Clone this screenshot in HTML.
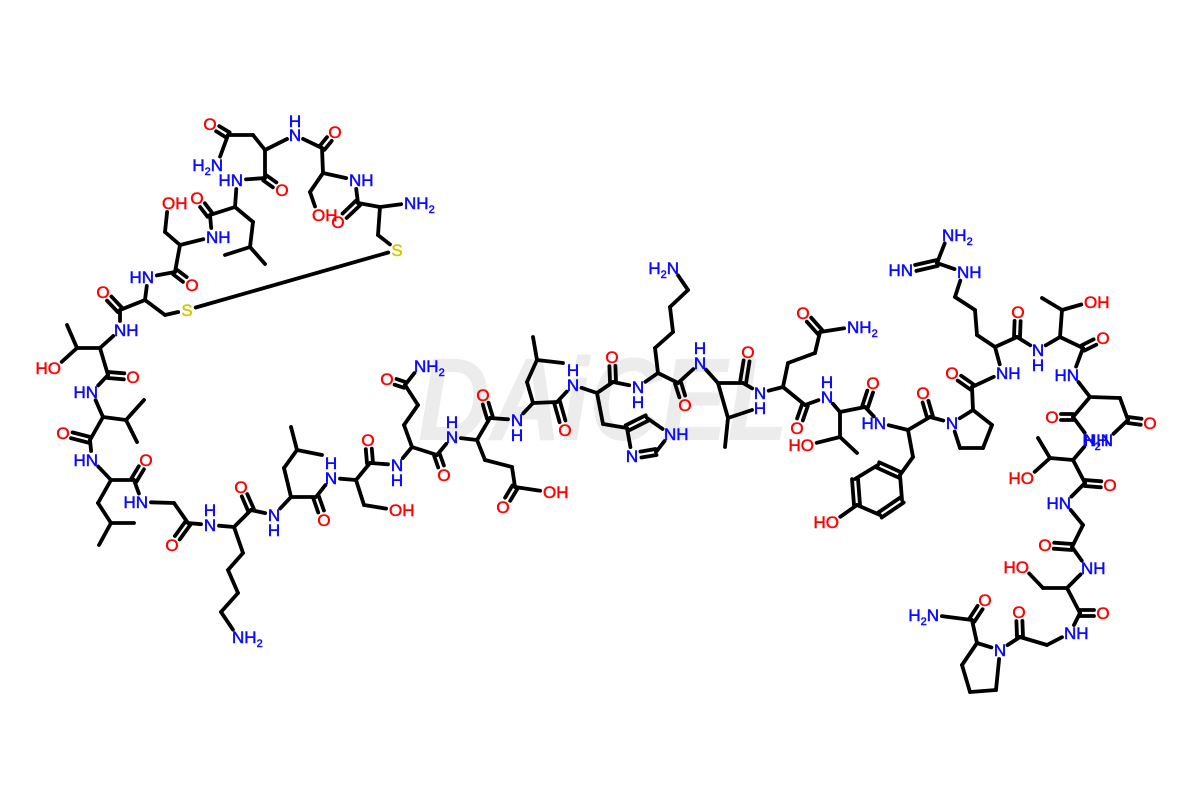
<!DOCTYPE html>
<html><head><meta charset="utf-8"><style>
html,body{margin:0;padding:0;background:#fff;}
svg{display:block}
#labels text{font-family:"Liberation Sans",Arial,sans-serif;font-size:17px;stroke-width:0.5px;}
.n{fill:#0a0aff;stroke:#0a0aff}.o{fill:#ff0000;stroke:#ff0000}.s{fill:#d4c600;stroke:#d4c600}
.wm{fill:#ececec;font-family:"Liberation Sans",Arial,sans-serif;font-size:118px;font-weight:bold;font-style:italic}
</style></head><body>
<svg id="sv" width="1200" height="800" viewBox="0 0 1200 800" xmlns="http://www.w3.org/2000/svg">
<text class="wm" x="418" y="440" textLength="370" lengthAdjust="spacingAndGlyphs">DAiCEL</text>
<g id="bonds" stroke="#000" stroke-width="3.8" stroke-linecap="round" fill="none"></g>
<g id="labels">
<text class="n" x="404" y="209">NH<tspan font-size="11" dy="4">2</tspan></text>
<text class="s" x="397" y="256" text-anchor="middle">S</text>
<text class="o" x="338" y="228" text-anchor="middle">O</text>
<text class="n" x="349" y="186">NH</text>
<text class="o" x="312" y="221">OH</text>
<text class="o" x="335" y="138" text-anchor="middle">O</text>
<text class="n" x="295" y="141" text-anchor="middle">N</text><text class="n" x="295" y="127" text-anchor="middle">H</text>
<text class="o" x="210" y="130" text-anchor="middle">O</text>
<text class="n" x="223" y="171" text-anchor="end">H<tspan font-size="11" dy="4">2</tspan><tspan dy="-4">N</tspan></text>
<text class="o" x="282" y="196" text-anchor="middle">O</text>
<text class="n" x="243" y="186" text-anchor="end">HN</text>
<text class="o" x="197" y="204" text-anchor="middle">O</text>
<text class="n" x="206" y="243">NH</text>
<text class="o" x="162" y="209">OH</text>
<text class="o" x="192" y="291" text-anchor="middle">O</text>
<text class="n" x="154" y="283" text-anchor="end">HN</text>
<text class="s" x="187" y="316" text-anchor="middle">S</text>
<text class="o" x="103" y="298" text-anchor="middle">O</text>
<text class="n" x="114" y="336">NH</text>
<text class="o" x="61" y="374" text-anchor="end">HO</text>
<text class="o" x="133" y="383" text-anchor="middle">O</text>
<text class="n" x="98" y="398" text-anchor="end">HN</text>
<text class="o" x="63" y="439" text-anchor="middle">O</text>
<text class="n" x="98" y="466" text-anchor="end">HN</text>
<text class="o" x="146" y="466" text-anchor="middle">O</text>
<text class="n" x="148" y="508" text-anchor="end">HN</text>
<text class="o" x="172" y="551" text-anchor="middle">O</text>
<text class="n" x="210" y="531" text-anchor="middle">N</text><text class="n" x="210" y="516" text-anchor="middle">H</text>
<text class="n" x="232" y="643">NH<tspan font-size="11" dy="4">2</tspan></text>
<text class="o" x="241" y="493" text-anchor="middle">O</text>
<text class="n" x="274" y="521" text-anchor="middle">N</text><text class="n" x="274" y="536" text-anchor="middle">H</text>
<text class="o" x="324" y="526" text-anchor="middle">O</text>
<text class="n" x="331" y="484" text-anchor="middle">N</text><text class="n" x="331" y="469" text-anchor="middle">H</text>
<text class="o" x="389" y="516">OH</text>
<text class="o" x="368" y="446" text-anchor="middle">O</text>
<text class="n" x="397" y="471" text-anchor="middle">N</text><text class="n" x="397" y="486" text-anchor="middle">H</text>
<text class="o" x="387" y="385" text-anchor="middle">O</text>
<text class="n" x="414" y="372">NH<tspan font-size="11" dy="4">2</tspan></text>
<text class="o" x="444" y="481" text-anchor="middle">O</text>
<text class="n" x="452" y="443" text-anchor="middle">N</text><text class="n" x="452" y="428" text-anchor="middle">H</text>
<text class="o" x="503" y="513" text-anchor="middle">O</text>
<text class="o" x="543" y="498">OH</text>
<text class="o" x="483" y="401" text-anchor="middle">O</text>
<text class="n" x="517" y="426" text-anchor="middle">N</text><text class="n" x="517" y="441" text-anchor="middle">H</text>
<text class="o" x="565" y="436" text-anchor="middle">O</text>
<text class="n" x="573" y="391" text-anchor="middle">N</text><text class="n" x="573" y="376" text-anchor="middle">H</text>
<text class="n" x="664" y="440">NH</text>
<text class="n" x="632" y="462" text-anchor="middle">N</text>
<text class="o" x="612" y="363" text-anchor="middle">O</text>
<text class="n" x="638" y="393" text-anchor="middle">N</text><text class="n" x="638" y="408" text-anchor="middle">H</text>
<text class="n" x="679" y="274" text-anchor="end">H<tspan font-size="11" dy="4">2</tspan><tspan dy="-4">N</tspan></text>
<text class="o" x="685" y="411" text-anchor="middle">O</text>
<text class="n" x="700" y="369" text-anchor="middle">N</text><text class="n" x="700" y="354" text-anchor="middle">H</text>
<text class="o" x="748" y="358" text-anchor="middle">O</text>
<text class="n" x="760" y="399" text-anchor="middle">N</text><text class="n" x="760" y="414" text-anchor="middle">H</text>
<text class="o" x="803" y="319" text-anchor="middle">O</text>
<text class="n" x="847" y="333">NH<tspan font-size="11" dy="4">2</tspan></text>
<text class="o" x="797" y="434" text-anchor="middle">O</text>
<text class="n" x="827" y="403" text-anchor="middle">N</text><text class="n" x="827" y="388" text-anchor="middle">H</text>
<text class="o" x="814" y="451" text-anchor="end">HO</text>
<text class="o" x="873" y="389" text-anchor="middle">O</text>
<text class="n" x="886" y="429" text-anchor="end">HN</text>
<text class="o" x="839" y="528" text-anchor="end">HO</text>
<text class="o" x="923" y="399" text-anchor="middle">O</text>
<text class="n" x="952" y="429" text-anchor="middle">N</text>
<text class="o" x="952" y="379" text-anchor="middle">O</text>
<text class="n" x="996" y="379">NH</text>
<text class="n" x="957" y="278">NH</text>
<text class="n" x="942" y="241">NH<tspan font-size="11" dy="4">2</tspan></text>
<text class="n" x="913" y="276" text-anchor="end">HN</text>
<text class="o" x="1018" y="318" text-anchor="middle">O</text>
<text class="n" x="1038" y="356" text-anchor="middle">N</text><text class="n" x="1038" y="371" text-anchor="middle">H</text>
<text class="o" x="1084" y="308">OH</text>
<text class="o" x="1103" y="344" text-anchor="middle">O</text>
<text class="n" x="1079" y="381" text-anchor="end">HN</text>
<text class="o" x="1150" y="429" text-anchor="middle">O</text>
<text class="n" x="1113" y="446" text-anchor="end">H<tspan font-size="11" dy="4">2</tspan><tspan dy="-4">N</tspan></text>
<text class="o" x="1052" y="423" text-anchor="middle">O</text>
<text class="n" x="1084" y="446">NH</text>
<text class="o" x="1034" y="484" text-anchor="end">HO</text>
<text class="o" x="1110" y="491" text-anchor="middle">O</text>
<text class="n" x="1071" y="509" text-anchor="end">HN</text>
<text class="o" x="1045" y="551" text-anchor="middle">O</text>
<text class="n" x="1081" y="574">NH</text>
<text class="o" x="1029" y="573" text-anchor="end">HO</text>
<text class="o" x="1103" y="619" text-anchor="middle">O</text>
<text class="n" x="1064" y="639">NH</text>
<text class="o" x="1019" y="618" text-anchor="middle">O</text>
<text class="n" x="1000" y="656" text-anchor="middle">N</text>
<text class="o" x="985" y="606" text-anchor="middle">O</text>
<text class="n" x="939" y="621" text-anchor="end">H<tspan font-size="11" dy="4">2</tspan><tspan dy="-4">N</tspan></text>
</g>
</svg>
<script>
const P={
N1:[410,203],a1:[380,207],s1c:[378,235],S1:[397,250],c1:[358,203],o1:[338,222],
n2:[355,180],a2:[323,173],sb2:[310,192],oh2:[318,215],c2:[322,148],o2:[335,132],
n3:[295,135],a3:[265,150],sb3:[253,135],sc3:[228,135],o3:[210,124],nh3:[217,165],c3:[265,178],o3b:[282,190],
n4:[237,180],a4:[235,207],l4a:[253,222],l4b:[250,247],l4c:[225,255],l4d:[265,264],c4:[210,215],o4:[197,198],
n5:[212,237],a5:[180,245],sb5:[165,232],oh5:[168,203],c5:[175,272],o5:[192,285],
n6:[148,277],a6:[145,300],sb6:[165,315],S6:[187,310],c6:[120,310],o6:[103,292],
n7:[120,330],a7:[100,348],t7:[77,348],m7:[67,325],ho7:[55,368],c7:[108,375],o7:[133,377],
n8:[92,392],a8:[103,417],v8:[126,420],v8a:[144,400],v8b:[137,442],c8:[90,440],o8:[63,433],
n9:[92,460],a9:[111,480],l9a:[98,503],l9b:[111,523],l9c:[134,523],l9d:[99,545],c9:[134,480],o9:[146,460],
n10:[142,502],g10:[174,503],c10:[188,523],o10:[172,545],
n11:[210,525],a11:[234,527],k1:[243,553],k2:[228,570],k3:[238,593],k4:[221,612],nk:[238,637],c11:[251,510],o11:[241,487],
n12:[274,515],a12:[291,497],l12a:[284,468],l12b:[297,450],l12c:[291,427],l12d:[322,455],c12:[316,497],o12:[324,520],
n13:[331,478],a13:[356,480],sb13:[364,505],oh13:[395,510],c13:[370,463],o13:[368,440],
n14:[397,465],a14:[412,447],q1:[404,425],q2:[418,405],q3:[405,385],qo:[387,379],qn:[420,366],c14:[437,455],o14:[444,475],
n15:[452,437],a15:[477,440],e1:[485,460],e2:[512,467],e3:[515,487],eo:[503,507],eoh:[549,492],c15:[490,418],o15:[483,395],
n16:[517,420],a16:[533,403],l16a:[527,382],l16b:[537,360],l16c:[533,337],l16d:[563,363],c16:[557,402],o16:[565,430],
n17:[573,385],a17:[597,393],h1:[603,424],h2:[627,428],h3:[647,418],hn:[670,434],h4:[656,452],hN:[632,456],c17:[613,382],o17:[612,357],
n18:[638,387],a18:[658,373],k18a:[655,348],k18b:[673,332],k18c:[670,307],k18d:[688,290],nk18:[673,268],c18:[678,383],o18:[685,405],
n19:[700,363],a19:[718,383],v19:[728,418],v19a:[752,410],v19b:[725,447],c19:[743,383],o19:[748,352],
n20:[760,393],a20:[783,387],g1:[788,363],g2:[815,353],g3:[820,332],go:[803,313],gn:[853,327],c20:[805,405],o20:[797,428],
n21:[827,397],a21:[840,412],t21:[840,437],ho21:[808,445],m21:[857,453],c21:[865,407],o21:[873,383],
n22:[880,423],a22:[908,430],y1:[913,457],r1:[900,475],r2:[878,465],r3:[855,479],r4:[857,505],r5:[880,515],r6:[902,500],ho22:[833,522],c22:[930,417],o22:[923,393],
Np:[952,423],pa:[973,410],p2:[992,425],p3:[983,448],p4:[960,448],pc:[972,387],po:[952,373],
n24:[1002,373],a24:[995,347],ra:[977,335],rb:[975,310],rcc:[955,297],rn:[963,272],rc:[937,263],rn2:[948,235],rhn:[907,270],c24:[1017,337],o24:[1018,312],
n25:[1038,350],a25:[1060,337],t25:[1062,310],oh25:[1090,302],m25:[1042,298],c25:[1083,348],o25:[1103,338],
n26:[1073,375],a26:[1090,397],s26:[1120,398],sc26:[1128,420],so26:[1150,423],sn26:[1107,440],c26:[1073,417],o26:[1052,417],
n27:[1090,440],a27:[1073,460],t27:[1050,458],m27:[1038,438],ho27:[1028,478],c27:[1085,483],o27:[1110,485],
n28:[1065,503],g28:[1083,525],c28:[1072,547],o28:[1045,545],
n29:[1087,568],a29:[1067,588],sb29:[1043,588],ho29:[1023,567],c29:[1080,613],o29:[1103,613],
n30:[1070,633],g30:[1047,645],c30:[1020,637],o30:[1019,612],
Np2:[1000,650],pa2:[977,643],pc2:[972,620],po2:[985,600],pn2:[933,615],q2a:[962,665],q2b:[970,692],q2c:[996,690]
};
const L=new Set("N1 S1 o1 n2 oh2 o2 n3 o3 nh3 o3b n4 o4 n5 oh5 o5 n6 S6 o6 n7 ho7 o7 n8 o8 n9 o9 n10 o10 n11 nk o11 n12 o12 n13 oh13 o13 n14 qo qn o14 n15 eo eoh o15 n16 o16 n17 hn hN o17 n18 nk18 o18 n19 o19 n20 go gn o20 n21 ho21 o21 n22 ho22 o22 Np po n24 rn rn2 rhn o24 n25 oh25 o25 n26 so26 sn26 o26 n27 ho27 o27 n28 o28 n29 ho29 o29 n30 o30 Np2 po2 pn2".split(" "));
const S="N1-a1 a1-s1c s1c-S1 S1-S6 a1-c1 c1-n2 n2-a2 a2-sb2 sb2-oh2 a2-c2 c2-n3 n3-a3 a3-sb3 sb3-sc3 sc3-nh3 a3-c3 c3-n4 n4-a4 a4-l4a l4a-l4b l4b-l4c l4b-l4d a4-c4 c4-n5 n5-a5 a5-sb5 sb5-oh5 a5-c5 c5-n6 n6-a6 a6-sb6 sb6-S6 a6-c6 c6-n7 n7-a7 a7-t7 t7-m7 t7-ho7 a7-c7 c7-n8 n8-a8 a8-v8 v8-v8a v8-v8b a8-c8 c8-n9 n9-a9 a9-l9a l9a-l9b l9b-l9c l9b-l9d a9-c9 c9-n10 n10-g10 g10-c10 c10-n11 n11-a11 a11-k1 k1-k2 k2-k3 k3-k4 k4-nk a11-c11 c11-n12 n12-a12 a12-l12a l12a-l12b l12b-l12c l12b-l12d a12-c12 c12-n13 n13-a13 a13-sb13 sb13-oh13 a13-c13 c13-n14 n14-a14 a14-q1 q1-q2 q2-q3 q3-qn a14-c14 c14-n15 n15-a15 a15-e1 e1-e2 e2-e3 e3-eoh a15-c15 c15-n16 n16-a16 a16-l16a l16a-l16b l16b-l16c l16b-l16d a16-c16 c16-n17 n17-a17 a17-h1 h1-h2 h3-hn hn-h4 hN-h2 a17-c17 c17-n18 n18-a18 a18-k18a k18a-k18b k18b-k18c k18c-k18d k18d-nk18 a18-c18 c18-n19 n19-a19 a19-v19 v19-v19a v19-v19b a19-c19 c19-n20 n20-a20 a20-g1 g1-g2 g2-g3 g3-gn a20-c20 c20-n21 n21-a21 a21-t21 t21-ho21 t21-m21 a21-c21 c21-n22 n22-a22 a22-y1 y1-r1 r2-r3 r4-r5 r6-r1 r4-ho22 a22-c22 c22-Np Np-pa pa-p2 p2-p3 p3-p4 p4-Np pa-pc pc-n24 n24-a24 a24-ra ra-rb rb-rcc rcc-rn rn-rc rc-rn2 a24-c24 c24-n25 n25-a25 a25-t25 t25-oh25 t25-m25 a25-c25 c25-n26 n26-a26 a26-s26 s26-sc26 sc26-sn26 a26-c26 c26-n27 n27-a27 a27-t27 t27-m27 t27-ho27 a27-c27 c27-n28 n28-g28 g28-c28 c28-n29 n29-a29 a29-sb29 sb29-ho29 a29-c29 c29-n30 n30-g30 g30-c30 c30-Np2 Np2-pa2 pa2-pc2 pc2-pn2 pa2-q2a q2a-q2b q2b-q2c q2c-Np2".split(" ");
const D="c1-o1 c2-o2 sc3-o3 c3-o3b c4-o4 c5-o5 c6-o6 c7-o7 c8-o8 c9-o9 c10-o10 c11-o11 c12-o12 c13-o13 q3-qo c14-o14 e3-eo c15-o15 c16-o16 h2-h3 h4-hN c17-o17 c18-o18 c19-o19 g3-go c20-o20 c21-o21 r1-r2 r3-r4 r5-r6 c22-o22 pc-po rc-rhn c24-o24 c25-o25 sc26-so26 c26-o26 c27-o27 c28-o28 c29-o29 c30-o30 pc2-po2".split(" ");
const g=document.getElementById("bonds");let h="";
function seg(a,b){let [x1,y1]=P[a],[x2,y2]=P[b];const dx=x2-x1,dy=y2-y1,l=Math.hypot(dx,dy),ux=dx/l,uy=dy/l;
 if(L.has(a)){x1+=ux*9;y1+=uy*9;} if(L.has(b)){x2-=ux*9;y2-=uy*9;} return [x1,y1,x2,y2,-uy,ux];}
function line(x1,y1,x2,y2){h+=`<line x1="${x1.toFixed(1)}" y1="${y1.toFixed(1)}" x2="${x2.toFixed(1)}" y2="${y2.toFixed(1)}"/>`;}
S.forEach(s=>{const [a,b]=s.split("-");const r=seg(a,b);line(r[0],r[1],r[2],r[3]);});
D.forEach(s=>{const [a,b]=s.split("-");const r=seg(a,b);const o=3;
 line(r[0]+r[4]*o,r[1]+r[5]*o,r[2]+r[4]*o,r[3]+r[5]*o);line(r[0]-r[4]*o,r[1]-r[5]*o,r[2]-r[4]*o,r[3]-r[5]*o);});
g.innerHTML=h;
</script>
</body></html>
